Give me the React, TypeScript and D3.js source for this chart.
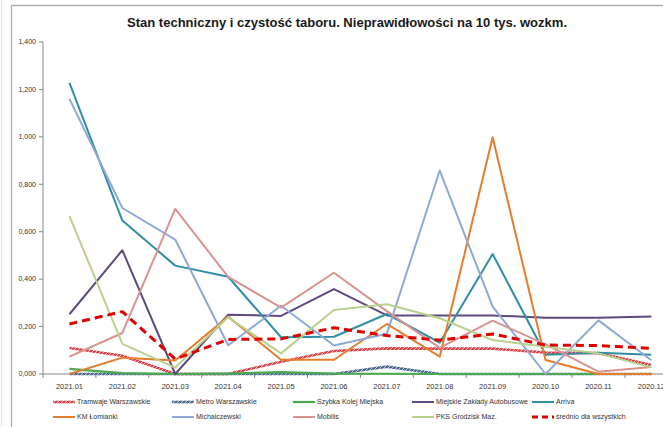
import React from "react";
import * as d3 from "d3";

const categories = [
  "2021.01", "2021.02", "2021.03", "2021.04", "2021.05", "2021.06",
  "2021.07", "2021.08", "2021.09", "2020.10", "2020.11", "2020.12",
];

const tramwaje = [0.11, 0.077, 0, 0, 0.052, 0.097, 0.108, 0.107, 0.107, 0.09, 0.088, 0.038];
const metro = [0, 0, 0, 0, 0, 0, 0.031, 0, 0, 0, 0, 0];
const skm = [0.022, 0.004, 0, 0.002, 0.008, 0.002, 0.001, 0, 0, 0, 0, 0];
const mza = [0.252, 0.522, 0, 0.25, 0.245, 0.358, 0.247, 0.247, 0.247, 0.237, 0.237, 0.242];
const arriva = [1.228, 0.647, 0.457, 0.41, 0.155, 0.157, 0.253, 0.132, 0.506, 0.081, 0.09, 0.081];
const kmLomianki = [0, 0.069, 0.057, 0.242, 0.06, 0.06, 0.211, 0.073, 0.998, 0.059, 0, 0];
const michalczewski = [1.16, 0.7, 0.567, 0.121, 0.288, 0.12, 0.17, 0.858, 0.284, 0, 0.226, 0.058];
const mobilis = [0.073, 0.173, 0.696, 0.41, 0.28, 0.427, 0.265, 0.11, 0.225, 0.125, 0.01, 0.03];
const pks = [0.666, 0.127, 0.027, 0.239, 0.087, 0.27, 0.294, 0.235, 0.143, 0.115, 0.087, 0.028];
const srednio = [0.211, 0.263, 0.063, 0.146, 0.148, 0.195, 0.162, 0.143, 0.169, 0.122, 0.12, 0.108];

const yTicks = [0, 0.2, 0.4, 0.6, 0.8, 1.0, 1.2, 1.4];

const series = [
  { name: "Tramwaje Warszawskie", values: tramwaje, color: "url(#hatchRed)", width: 2.6 },
  { name: "Metro Warszawskie", values: metro, color: "url(#hatchBlue)", width: 2.6 },
  { name: "Szybka Kolej Miejska", values: skm, color: "#4aa84f", width: 2.2 },
  { name: "Miejskie Zakłady Autobusowe", values: mza, color: "#5f4a7d", width: 2 },
  { name: "Arriva", values: arriva, color: "#2f8fa4", width: 2 },
  { name: "KM Łomianki", values: kmLomianki, color: "#e67c2c", width: 2 },
  { name: "Michalczewski", values: michalczewski, color: "#8fa9d6", width: 2 },
  { name: "Mobilis", values: mobilis, color: "#d89391", width: 2 },
  { name: "PKS Grodzisk Maz.", values: pks, color: "#b9d18d", width: 2 },
  { name: "średnio dla wszystkich", values: srednio, color: "#e00000", width: 3, dash: "8,5" },
];

const App = () => {
  const width = 663;
  const height = 427;
  const x0 = 43;
  const step = 52.9;

  const x = d3
    .scaleBand()
    .domain(categories)
    .range([x0, x0 + step * categories.length]);
  const y = d3.scaleLinear().domain([0, 1.4]).range([374, 42]);

  const line = d3
    .line<number>()
    .x((d, i) => x(categories[i])! + x.bandwidth() / 2)
    .y(d => y(d));

  const fmt = (v: number) => d3.format(".3f")(v).replace(".", ",");
  const axisColor = "#868686";
  const font = "'Liberation Sans', Arial, sans-serif";

  const legendCols = [53, 172, 293, 412, 532];
  const legendRows = [402, 417];

  return (
    <svg
      width={width}
      height={height}
      style={{ position: "absolute", left: 0, top: 0, background: "#fff" }}
      fontFamily={font}
    >
      <defs>
        <pattern id="hatchRed" patternUnits="userSpaceOnUse" width="4" height="4">
          <rect width="4" height="4" fill="#d9444a" />
          <path d="M-1,1 l2,-2 M0,4 l4,-4 M3,5 l2,-2" stroke="#f4b8b8" strokeWidth="1" />
        </pattern>
        <pattern id="hatchBlue" patternUnits="userSpaceOnUse" width="4" height="4">
          <rect width="4" height="4" fill="#4f6a8c" />
          <path d="M-1,1 l2,-2 M0,4 l4,-4 M3,5 l2,-2" stroke="#b8c6d8" strokeWidth="1" />
        </pattern>
      </defs>

      <line x1={1.5} x2={1.5} y1={0} y2={height} stroke="#e0e0e0" />
      <path d={`M11.5,${height} V5.5 H${width}`} fill="none" stroke="#b0b0b0" strokeWidth={1.3} />

      <text
        x={347}
        y={27}
        textAnchor="middle"
        fontSize={12.5}
        fontWeight="bold"
        fill="#1a1a1a"
        textLength={440}
        lengthAdjust="spacingAndGlyphs"
      >
        Stan techniczny i czystość taboru. Nieprawidłowości na 10 tys. wozkm.
      </text>

      {/* y axis */}
      <line x1={x0} x2={x0} y1={y(1.4)} y2={y(0)} stroke={axisColor} />
      {yTicks.map(t => (
        <g key={t}>
          <line x1={x0 - 4} x2={x0} y1={y(t)} y2={y(t)} stroke={axisColor} />
          <text x={36} y={y(t)} dy="0.33em" textAnchor="end" fontSize={7} fill="#333">
            {fmt(t)}
          </text>
        </g>
      ))}

      {/* x axis */}
      <line x1={x0} x2={width} y1={y(0)} y2={y(0)} stroke={axisColor} />
      {d3.range(categories.length + 1).map(i => (
        <line
          key={i}
          x1={x0 + i * step}
          x2={x0 + i * step}
          y1={y(0)}
          y2={y(0) + 4}
          stroke={axisColor}
        />
      ))}
      {categories.map(c => (
        <text
          key={c}
          x={x(c)! + x.bandwidth() / 2}
          y={389}
          textAnchor="middle"
          fontSize={7.5}
          fill="#333"
        >
          {c}
        </text>
      ))}

      {/* lines */}
      {series.map(s => (
        <path
          key={s.name}
          d={line(s.values)!}
          fill="none"
          stroke={s.color}
          strokeWidth={s.width}
          strokeDasharray={s.dash}
          strokeLinejoin="round"
        />
      ))}

      {/* legend */}
      {series.map((s, i) => {
        const lx = legendCols[i % 5];
        const ly = legendRows[Math.floor(i / 5)];
        return (
          <g key={s.name}>
            <line
              x1={lx}
              x2={lx + 22}
              y1={ly}
              y2={ly}
              stroke={s.color}
              strokeWidth={s.width}
              strokeDasharray={s.dash ? "6,4" : undefined}
            />
            <text x={lx + 24} y={ly} dy="0.33em" fontSize={7} fill="#333">
              {s.name}
            </text>
          </g>
        );
      })}
    </svg>
  );
};

export default App;
